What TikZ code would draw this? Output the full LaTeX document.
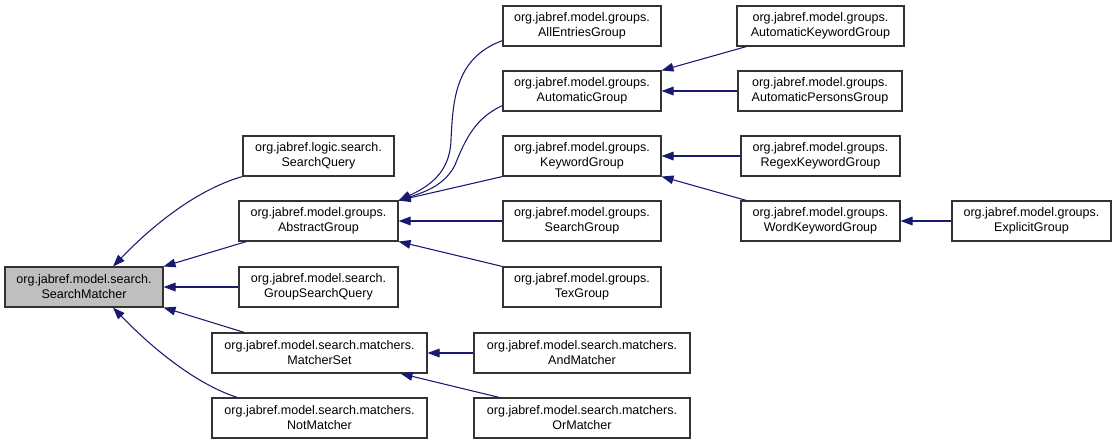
\documentclass[tikz,border=0pt]{standalone}
\usepackage{fontspec}
\setmainfont{Liberation Sans}
\usetikzlibrary{arrows.meta,calc}
\definecolor{edgeblue}{HTML}{191970}
\definecolor{boxgrey}{HTML}{BFBFBF}
\begin{document}
\begin{tikzpicture}[x=0.75pt,y=-0.75pt,
  cls/.style={draw=black!80,line width=0.8pt,rectangle,minimum height=30pt,inner sep=0pt,
    align=center,font=\fontsize{9.4pt}{11.25pt}\selectfont},
  edge/.style={draw=edgeblue,line width=0.8pt,{Triangle[length=9pt,width=6.5pt]}-},
]
\useasboundingbox (0,0) rectangle (1116,444);
% nodes
\node[cls,fill=boxgrey,minimum width=158*0.75pt] (sm) at (84,287) {org.jabref.model.search.\\SearchMatcher};
\node[cls,minimum width=151*0.75pt] (sq) at (318.5,156) {org.jabref.logic.search.\\SearchQuery};
\node[cls,minimum width=159*0.75pt] (ag) at (318.5,221) {org.jabref.model.groups.\\AbstractGroup};
\node[cls,minimum width=159*0.75pt] (gsq) at (318.5,287) {org.jabref.model.search.\\GroupSearchQuery};
\node[cls,minimum width=215*0.75pt] (ms) at (319.5,353) {org.jabref.model.search.matchers.\\MatcherSet};
\node[cls,minimum width=215*0.75pt] (nm) at (319.5,418) {org.jabref.model.search.matchers.\\NotMatcher};
\node[cls,minimum width=158*0.75pt] (aeg) at (582,26) {org.jabref.model.groups.\\AllEntriesGroup};
\node[cls,minimum width=158*0.75pt] (autg) at (582,91) {org.jabref.model.groups.\\AutomaticGroup};
\node[cls,minimum width=158*0.75pt] (kg) at (582,156) {org.jabref.model.groups.\\KeywordGroup};
\node[cls,minimum width=158*0.75pt] (sg) at (582,221) {org.jabref.model.groups.\\SearchGroup};
\node[cls,minimum width=158*0.75pt] (tg) at (582,287) {org.jabref.model.groups.\\TexGroup};
\node[cls,minimum width=216*0.75pt] (andm) at (582,353) {org.jabref.model.search.matchers.\\AndMatcher};
\node[cls,minimum width=216*0.75pt] (orm) at (582,418) {org.jabref.model.search.matchers.\\OrMatcher};
\node[cls,minimum width=167*0.75pt] (akg) at (820.5,26) {org.jabref.model.groups.\\AutomaticKeywordGroup};
\node[cls,minimum width=164*0.75pt] (apg) at (820,91) {org.jabref.model.groups.\\AutomaticPersonsGroup};
\node[cls,minimum width=159*0.75pt] (rkg) at (820.5,156) {org.jabref.model.groups.\\RegexKeywordGroup};
\node[cls,minimum width=159*0.75pt] (wkg) at (820.5,221) {org.jabref.model.groups.\\WordKeywordGroup};
\node[cls,minimum width=159*0.75pt] (eg) at (1031.5,221) {org.jabref.model.groups.\\ExplicitGroup};
% edges to SearchMatcher
\draw[edge] ($(sm.north)+(29,0)$) .. controls (150,228) and (195,190) .. (sq.south west);
\draw[edge] (sm.north east) -- ($(ag.south west)+(8,0)$);
\draw[edge] (sm.east) -- (gsq.west);
\draw[edge] (sm.south east) -- ($(ms.north west)+(33,0)$);
\draw[edge] ($(sm.south)+(29,0)$) .. controls (150,346) and (195,384) .. ($(nm.north west)+(26,0)$);
% edges to AbstractGroup
\draw[edge] (ag.north east) .. controls (430,186) and (450,172) .. (451,140)
  .. controls (453,100) and (455,58) .. ($(aeg.south west)+(0,-6)$);
\draw[edge] (ag.north east) .. controls (425,192) and (445,185) .. (455,165)
  .. controls (465,140) and (475,118) .. ($(autg.south west)+(0,-6)$);
\draw[edge] (ag.north east) -- (kg.south west);
\draw[edge] (ag.east) -- (sg.west);
\draw[edge] (ag.south east) -- (tg.north west);
% edges to AutomaticGroup
\draw[edge] (autg.north east) -- ($(akg.south west)+(10,0)$);
\draw[edge] (autg.east) -- (apg.west);
% edges to KeywordGroup
\draw[edge] (kg.east) -- (rkg.west);
\draw[edge] (kg.south east) -- ($(wkg.north west)+(6,0)$);
% WordKeywordGroup
\draw[edge] (wkg.east) -- (eg.west);
% MatcherSet
\draw[edge] (ms.east) -- (andm.west);
\draw[edge] ($(ms.south east)+(-27,0)$) -- ($(orm.north west)+(26,0)$);
\end{tikzpicture}
\end{document}
